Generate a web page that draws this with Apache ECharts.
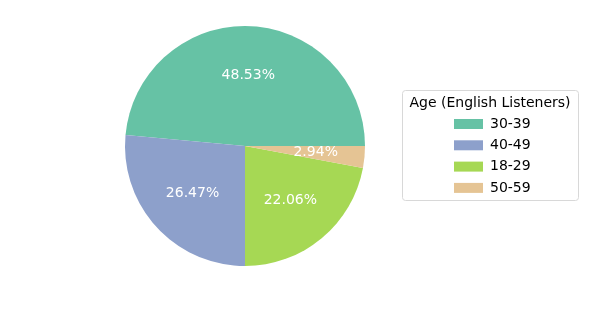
<!DOCTYPE html>
<html>
<head>
<meta charset="utf-8">
<script src="https://cdn.jsdelivr.net/npm/echarts@6/dist/echarts.min.js"></script>
<style>
  html, body { margin: 0; padding: 0; background: #fff; }
  #chart { width: 598px; height: 325px; }
</style>
</head>
<body>
<div id="chart"></div>
<script>
// age groups, listener counts (68 in total)
const categories = ['30-39', '40-49', '18-29', '50-59'];
const counts = [33, 18, 15, 2];
const colors = ['#66c2a5', '#8da0cb', '#a6d854', '#e5c494'];
const legendTitle = 'Age (English Listeners)';

const font = 'DejaVu Sans';
const pieData = categories.map((c, i) => ({ name: c, value: counts[i] }));

let myChart = echarts.init(document.getElementById('chart'));
let option = {
  animation: false,
  color: colors,
  graphic: [
    {
      type: 'rect',
      shape: { x: 402.5, y: 90.5, width: 176, height: 110, r: 3 },
      style: { fill: '#fff', stroke: '#d8d8d8', lineWidth: 1 },
      z: 0
    },
    {
      type: 'text',
      x: 490, y: 103,
      style: {
        text: legendTitle, font: '14px "DejaVu Sans"', fill: '#000',
        align: 'center', verticalAlign: 'middle'
      },
      z: 5
    }
  ],
  legend: {
    orient: 'vertical',
    left: 449,
    top: 112,
    itemWidth: 29,
    itemHeight: 10,
    itemGap: 7.3,
    icon: 'rect',
    selectedMode: false,
    data: categories,
    textStyle: { fontFamily: font, fontSize: 14, color: '#000', padding: [0, 0, 0, 2], lineHeight: 14 }
  },
  series: [
    {
      name: 'age',
      type: 'pie',
      center: [245, 146],
      radius: [0, 120],
      startAngle: 0,
      clockwise: false,
      data: pieData,
      label: { show: false },
      labelLine: { show: false },
      silent: true
    },
    {
      // transparent ring only used to place the percentage labels at 0.6 r
      name: 'age',
      type: 'pie',
      center: [245, 146],
      radius: [56, 80],
      startAngle: 0,
      clockwise: false,
      data: pieData,
      itemStyle: { color: 'rgba(0,0,0,0)' },
      silent: true,
      z: 3,
      label: {
        show: true,
        position: 'inside',
        rotate: 0,
        formatter: p => p.percent.toFixed(2) + '%',
        fontFamily: font,
        fontSize: 14,
        color: '#fff'
      },
      labelLine: { show: false }
    }
  ]
};
myChart.setOption(option);
</script>
</body>
</html>
